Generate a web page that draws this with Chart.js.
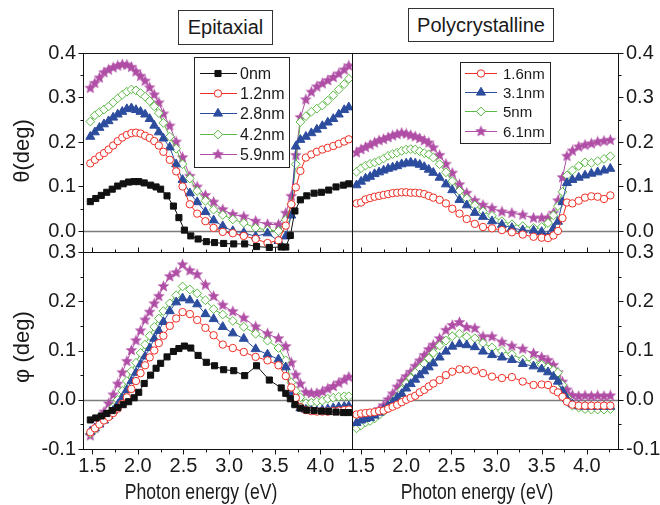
<!DOCTYPE html>
<html>
<head>
<meta charset="utf-8">
<script src="https://cdn.jsdelivr.net/npm/chart.js@4.4.1/dist/chart.umd.min.js"></script>
<style>
  html, body { margin: 0; padding: 0; background: #fff; }
  #wrap { position: relative; width: 660px; height: 505px; overflow: hidden;
          font-family: 'Liberation Sans', Arial, sans-serif; color: #1a1a1a; }
  #wrap canvas { position: absolute; left: 0; top: 0; }
  .tbox { position: absolute; box-sizing: border-box; border: 1px solid #333; background: #fff;
          font-size: 20px; text-align: center; white-space: nowrap; }
  .lbl { position: absolute; white-space: nowrap; font-size: 22px; transform: translate(-50%, -50%) scaleX(0.8); }
  .vlbl { position: absolute; white-space: nowrap; font-size: 22px; transform: translate(-50%, -50%) rotate(-90deg); }
</style>
</head>
<body>
<div id="wrap">
  <canvas id="cTL" width="660" height="505"></canvas>
  <canvas id="cTR" width="660" height="505"></canvas>
  <canvas id="cBL" width="660" height="505"></canvas>
  <canvas id="cBR" width="660" height="505"></canvas>
  <div class="tbox" style="left:178px;top:10px;width:95px;height:35px;line-height:33px;">Epitaxial</div>
  <div class="tbox" style="left:408px;top:8px;width:146px;height:34px;line-height:32px;">Polycrystalline</div>
  <div class="vlbl" style="left:22px;top:151px;">θ(deg)</div>
  <div class="vlbl" style="left:22px;top:347px;">φ (deg)</div>
  <div class="lbl" style="left:201px;top:492px;">Photon energy (eV)</div>
  <div class="lbl" style="left:477px;top:492px;">Photon energy (eV)</div>
</div>
<script>
// ---------- axis ticks ----------
const X_MAJOR = [1.5, 2.0, 2.5, 3.0, 3.5, 4.0];
const X_MINOR = [1.75, 2.25, 2.75, 3.25, 3.75, 4.25];
const THETA_MAJOR = [0.0, 0.1, 0.2, 0.3, 0.4];
const THETA_MINOR = [0.05, 0.15, 0.25, 0.35];
const PHI_MAJOR = [-0.1, 0.0, 0.1, 0.2, 0.3];
const PHI_MINOR = [-0.05, 0.05, 0.15, 0.25];

// ---------- epitaxial films: photon energy (eV) ----------
const EPI_E0 = [1.48,1.54,1.60,1.66,1.72,1.78,1.84,1.90,1.96,2.01,2.07,2.14,2.20,2.25,2.32,2.39,2.45,2.51,2.58,2.66,
                2.75,2.84,2.94,3.05,3.17,3.30,3.44,3.57,3.62,3.67,3.72,3.78,3.85,3.93,4.01,4.09,4.17,4.25,4.31];
const EPI_E = [1.48,1.53,1.58,1.63,1.68,1.73,1.78,1.83,1.88,1.93,1.98,2.03,2.08,2.13,2.18,2.23,2.28,
               2.35,2.42,2.49,2.57,2.65,2.74,2.83,2.93,3.04,3.16,3.29,3.42,3.54,
               3.62,3.68,3.73,3.78,3.84,3.90,3.96,4.02,4.08,4.14,4.20,4.26,4.31];

// Kerr rotation theta (deg), epitaxial
const EPI_THETA_0 = [0.066,0.073,0.080,0.087,0.094,0.101,0.106,0.110,0.111,0.111,0.108,0.103,0.099,0.094,0.079,0.056,0.030,0.002,-0.011,-0.018,
                     -0.024,-0.026,-0.028,-0.029,-0.029,-0.035,-0.037,-0.036,-0.036,-0.010,0.045,0.070,0.079,0.085,0.087,0.092,0.099,0.103,0.106];
const EPI_THETA_12 = [0.152,0.160,0.168,0.175,0.183,0.192,0.202,0.210,0.216,0.220,0.221,0.219,0.214,0.209,0.202,0.192,0.178,
                      0.160,0.134,0.100,0.060,0.039,0.022,0.007,-0.002,-0.005,-0.011,-0.018,-0.027,-0.021,
                      0.012,0.060,0.098,0.135,0.165,0.172,0.178,0.183,0.187,0.191,0.196,0.201,0.206];
const EPI_THETA_28 = [0.212,0.222,0.232,0.240,0.247,0.255,0.262,0.268,0.274,0.276,0.272,0.268,0.262,0.252,0.237,0.222,0.208,
                      0.188,0.150,0.115,0.085,0.065,0.043,0.024,0.011,0.000,-0.004,-0.012,-0.005,-0.022,
                      -0.012,0.035,0.190,0.205,0.212,0.220,0.228,0.236,0.244,0.252,0.262,0.272,0.278];
const EPI_THETA_42 = [0.246,0.260,0.267,0.273,0.280,0.289,0.298,0.306,0.313,0.318,0.316,0.310,0.302,0.292,0.280,0.265,0.243,
                      0.212,0.185,0.150,0.118,0.090,0.068,0.048,0.036,0.026,0.018,0.007,0.002,0.000,
                      0.025,0.060,0.150,0.245,0.258,0.268,0.275,0.282,0.293,0.305,0.318,0.330,0.342];
const EPI_THETA_59 = [0.321,0.332,0.344,0.356,0.362,0.367,0.371,0.374,0.373,0.368,0.358,0.348,0.337,0.322,0.306,0.288,0.263,
                      0.236,0.200,0.165,0.123,0.099,0.080,0.065,0.048,0.037,0.032,0.022,0.015,0.014,
                      0.040,0.078,0.170,0.255,0.295,0.312,0.324,0.331,0.338,0.345,0.353,0.362,0.371];

// Kerr ellipticity phi (deg), epitaxial
const EPI_PHI_0 = [-0.041,-0.037,-0.033,-0.028,-0.022,-0.016,-0.010,-0.004,0.004,0.015,0.033,0.050,0.064,0.074,0.087,0.098,0.104,0.109,0.105,0.090,
                   0.076,0.069,0.061,0.059,0.049,0.069,0.040,0.024,0.013,0.002,-0.010,-0.017,-0.021,-0.022,-0.023,-0.024,-0.025,-0.026,-0.026];
const EPI_PHI_12 = [-0.066,-0.058,-0.050,-0.042,-0.035,-0.027,-0.018,-0.008,0.005,0.022,0.038,0.054,0.070,0.086,0.100,0.115,0.130,
                    0.150,0.165,0.178,0.174,0.162,0.146,0.131,0.112,0.105,0.097,0.087,0.080,0.070,
                    0.048,0.025,0.004,-0.015,-0.021,-0.023,-0.024,-0.024,-0.024,-0.023,-0.022,-0.021,-0.020];
const EPI_PHI_28 = [-0.065,-0.058,-0.050,-0.042,-0.033,-0.022,-0.010,0.004,0.020,0.038,0.055,0.072,0.088,0.105,0.124,0.140,0.158,
                    0.180,0.198,0.206,0.202,0.194,0.174,0.164,0.148,0.135,0.124,0.103,0.092,0.082,
                    0.066,0.010,-0.008,-0.017,-0.020,-0.022,-0.023,-0.021,-0.019,-0.017,-0.015,-0.014,-0.013];
const EPI_PHI_42 = [-0.068,-0.060,-0.050,-0.040,-0.028,-0.015,0.000,0.018,0.038,0.058,0.075,0.095,0.112,0.130,0.148,0.165,0.180,
                    0.196,0.212,0.230,0.224,0.216,0.202,0.184,0.173,0.160,0.148,0.134,0.120,0.105,
                    0.080,0.035,0.018,0.005,-0.007,-0.006,-0.004,-0.002,0.002,0.004,0.006,0.007,0.007];
const EPI_PHI_59 = [-0.073,-0.058,-0.042,-0.025,-0.008,0.010,0.032,0.055,0.078,0.100,0.120,0.140,0.162,0.178,0.195,0.210,0.230,
                    0.250,0.258,0.274,0.262,0.254,0.233,0.210,0.192,0.179,0.166,0.148,0.134,0.124,
                    0.108,0.075,0.050,0.032,0.015,0.013,0.013,0.016,0.022,0.027,0.034,0.040,0.046];

// ---------- polycrystalline films: photon energy (eV) ----------
const POLY_E = [1.45,1.50,1.55,1.60,1.65,1.70,1.75,1.80,1.85,1.90,1.95,2.00,2.05,2.10,2.15,2.20,2.25,2.30,
                2.37,2.44,2.51,2.59,2.67,2.76,2.85,2.95,3.06,3.17,3.29,3.41,3.50,3.57,
                3.63,3.68,3.73,3.78,3.84,3.91,3.98,4.05,4.12,4.19,4.26];

const POLY_THETA_16 = [0.062,0.064,0.071,0.074,0.077,0.079,0.081,0.083,0.085,0.086,0.087,0.087,0.086,0.086,0.085,0.083,0.079,0.075,
                       0.070,0.062,0.050,0.039,0.027,0.016,0.009,0.006,0.002,-0.003,-0.008,-0.013,-0.015,-0.016,
                       -0.010,0.000,0.029,0.064,0.062,0.068,0.075,0.078,0.077,0.072,0.080];
const POLY_THETA_31 = [0.103,0.111,0.118,0.122,0.128,0.132,0.136,0.140,0.143,0.146,0.150,0.152,0.154,0.152,0.149,0.144,0.138,0.131,
                       0.120,0.105,0.092,0.070,0.058,0.041,0.032,0.022,0.014,0.007,0.002,0.001,-0.002,-0.012,
                       0.006,0.021,0.065,0.108,0.115,0.120,0.125,0.129,0.132,0.136,0.140];
const POLY_THETA_50 = [0.133,0.141,0.147,0.151,0.154,0.158,0.163,0.169,0.173,0.176,0.180,0.183,0.184,0.183,0.179,0.175,0.172,0.165,
                       0.150,0.132,0.112,0.090,0.073,0.058,0.044,0.034,0.022,0.015,0.011,0.007,0.009,0.018,
                       0.035,0.056,0.088,0.125,0.136,0.146,0.154,0.153,0.157,0.162,0.168];
const POLY_THETA_61 = [0.176,0.183,0.188,0.193,0.198,0.203,0.206,0.210,0.214,0.217,0.220,0.218,0.215,0.212,0.208,0.203,0.198,0.187,
                       0.170,0.150,0.130,0.104,0.085,0.068,0.058,0.051,0.043,0.040,0.036,0.029,0.029,0.029,
                       0.040,0.068,0.120,0.168,0.180,0.189,0.193,0.196,0.200,0.202,0.204];

const POLY_PHI_16 = [-0.030,-0.028,-0.027,-0.026,-0.025,-0.023,-0.022,-0.018,-0.014,-0.010,-0.005,0.000,0.004,0.008,0.015,0.020,0.027,0.033,
                     0.040,0.050,0.057,0.062,0.061,0.059,0.054,0.047,0.044,0.046,0.037,0.030,0.031,0.030,
                     0.020,0.015,0.006,-0.004,-0.010,-0.012,-0.012,-0.012,-0.012,-0.012,-0.012];
const POLY_PHI_31 = [-0.047,-0.042,-0.039,-0.037,-0.032,-0.026,-0.020,-0.013,-0.005,0.004,0.012,0.023,0.032,0.041,0.050,0.058,0.066,0.074,
                     0.086,0.098,0.108,0.113,0.111,0.107,0.098,0.091,0.086,0.081,0.073,0.068,0.062,0.056,
                     0.047,0.037,0.018,0.002,-0.009,-0.013,-0.014,-0.014,-0.014,-0.014,-0.014];
const POLY_PHI_50 = [-0.058,-0.052,-0.046,-0.043,-0.038,-0.031,-0.024,-0.015,-0.004,0.006,0.020,0.033,0.044,0.055,0.064,0.073,0.084,0.095,
                     0.110,0.120,0.129,0.134,0.128,0.125,0.115,0.106,0.099,0.092,0.082,0.078,0.071,0.066,
                     0.060,0.055,0.030,0.005,-0.012,-0.016,-0.019,-0.020,-0.020,-0.020,-0.019];
const POLY_PHI_61 = [-0.050,-0.045,-0.040,-0.034,-0.027,-0.020,-0.012,0.000,0.012,0.026,0.037,0.047,0.056,0.068,0.079,0.090,0.102,0.111,
                     0.124,0.141,0.151,0.157,0.147,0.145,0.128,0.128,0.117,0.109,0.103,0.094,0.086,0.080,
                     0.070,0.055,0.036,0.020,0.009,0.007,0.008,0.007,0.008,0.007,0.008];

// ---------- layout ----------
const W = 660, H = 505;
const X_RANGE = [1.40, 4.345];
const THETA_RANGE = [-0.0472, 0.40];
const PHI_RANGE = [-0.10, 0.30];
const FONT = "'Liberation Sans', Arial, sans-serif";
const INK = '#1a1a1a';

// marker styles
function starImage(size, color) {
  const c = document.createElement('canvas');
  c.width = size; c.height = size;
  const g = c.getContext('2d');
  const cx = size / 2, cy = size / 2, R = size / 2 - 0.3, r = R * 0.45;
  g.beginPath();
  for (let k = 0; k < 10; k++) {
    const a = -Math.PI / 2 + k * Math.PI / 5;
    const rr = (k % 2) ? r : R;
    g.lineTo(cx + rr * Math.cos(a), cy + rr * Math.sin(a));
  }
  g.closePath();
  g.fillStyle = color;
  g.fill();
  return c;
}
const STAR = starImage(13, '#b04ea6');
const STYLES = [
  { color: '#111111', fill: '#111111', shape: 'rect',     r: 4.3 },
  { color: '#ee2e24', fill: '#ffffff', shape: 'circle',   r: 3.7 },
  { color: '#2c4c9e', fill: '#2c4c9e', shape: 'triangle', r: 5.2 },
  { color: '#5cb946', fill: '#ffffff', shape: 'rectRot',  r: 4.4 },
  { color: '#b04ea6', fill: '#b04ea6', shape: STAR,       r: 6   }
];

function series(label, xs, ys, st) {
  return {
    label,
    data: xs.map((x, i) => ({ x, y: ys[i] })),
    showLine: true,
    borderColor: st.color,
    borderWidth: 1,
    backgroundColor: st.fill,
    pointStyle: st.shape,
    pointRadius: st.r,
    pointBackgroundColor: st.fill,
    pointBorderColor: st.color,
    pointBorderWidth: 1,
    tension: 0
  };
}

function drawLegend(chart, L) {
  const ctx = chart.ctx;
  ctx.save();
  ctx.fillStyle = '#fff';
  ctx.fillRect(L.x, L.y, L.w, L.h);
  ctx.strokeStyle = '#222';
  ctx.lineWidth = 1;
  ctx.strokeRect(L.x + 0.5, L.y + 0.5, L.w, L.h);
  chart.data.datasets.forEach((ds, i) => {
    const yy = Math.round(L.y0 + i * L.dy) + 0.5;
    ctx.strokeStyle = ds.borderColor;
    ctx.lineWidth = 1;
    ctx.beginPath(); ctx.moveTo(L.lx1, yy); ctx.lineTo(L.lx2, yy); ctx.stroke();
    ctx.fillStyle = ds.pointBackgroundColor;
    ctx.strokeStyle = ds.pointBorderColor;
    ctx.lineWidth = ds.pointBorderWidth;
    Chart.helpers.drawPoint(ctx, { pointStyle: ds.pointStyle, radius: ds.pointRadius,
                                   borderWidth: ds.pointBorderWidth, rotation: 0 }, L.mx, yy);
    ctx.fillStyle = INK;
    ctx.font = L.size + 'px ' + FONT;
    ctx.textAlign = 'left';
    ctx.textBaseline = 'middle';
    ctx.fillText(ds.label, L.tx, yy + 1);
  });
  ctx.restore();
}

// frame, tick marks, zero line and legend of one panel
function decoPlugin(cfg) {
  return {
    id: 'panelDeco',
    beforeDatasetsDraw(chart) {
      const { ctx, chartArea: a } = chart;
      const py = Math.round(chart.scales.y.getPixelForValue(0)) + 0.5;
      ctx.save();
      ctx.strokeStyle = '#7d7d7d';
      ctx.lineWidth = 1.5;
      ctx.beginPath(); ctx.moveTo(a.left, py); ctx.lineTo(a.right, py); ctx.stroke();
      ctx.restore();
    },
    afterDatasetsDraw(chart) {
      const { ctx, chartArea: a } = chart;
      const xs = chart.scales.x, ys = chart.scales.y;
      ctx.save();
      ctx.strokeStyle = '#111';
      ctx.lineWidth = 1;
      ctx.strokeRect(a.left + 0.5, a.top + 0.5, a.right - a.left, a.bottom - a.top);
      ctx.beginPath();
      for (const t of cfg.ticks) {
        const groups = [[t.major, 5], [t.minor, 3]];
        for (const [vals, len] of groups) {
          for (const v of vals) {
            if (t.axis === 'x') {
              const px = Math.round(xs.getPixelForValue(v)) + 0.5;
              const ey = (t.edge === 'bottom' ? a.bottom : a.top) + 0.5;
              ctx.moveTo(px, ey); ctx.lineTo(px, ey + t.dir * len);
            } else {
              const py = Math.round(ys.getPixelForValue(v)) + 0.5;
              const ex = (t.edge === 'left' ? a.left : a.right) + 0.5;
              ctx.moveTo(ex, py); ctx.lineTo(ex + t.dir * len, py);
            }
          }
        }
      }
      ctx.stroke();
      ctx.restore();
      if (cfg.legend) drawLegend(chart, cfg.legend);
    }
  };
}

// box: plot area in page pixels; the axis boxes fill the margins around it
function makePanel(id, box, datasets, yRange, yTicks, yPos, showX, cfg) {
  const yWidth = yPos === 'left' ? box.left : W - box.right;
  const xHeight = showX ? H - box.bottom : 0;
  return new Chart(document.getElementById(id), {
    type: 'scatter',
    data: { datasets },
    options: {
      responsive: false,
      animation: false,
      events: [],
      layout: { autoPadding: false,
                padding: { left: yPos === 'left' ? 0 : box.left,
                           right: yPos === 'right' ? 0 : W - box.right,
                           top: box.top,
                           bottom: showX ? 0 : H - box.bottom } },
      plugins: { legend: { display: false }, tooltip: { enabled: false } },
      scales: {
        x: {
          type: 'linear', position: 'bottom', min: X_RANGE[0], max: X_RANGE[1],
          afterFit(s) { s.height = xHeight; },
          afterBuildTicks(s) { s.ticks = X_MAJOR.map(v => ({ value: v })); },
          grid: { display: false, drawTicks: false },
          border: { display: false },
          ticks: { display: showX, autoSkip: false, maxRotation: 0, minRotation: 0, padding: 5, color: INK,
                   font: { family: FONT, size: 20 }, callback: v => v.toFixed(1) }
        },
        y: {
          type: 'linear', position: yPos, min: yRange[0], max: yRange[1],
          afterFit(s) { s.width = yWidth; },
          afterBuildTicks(s) { s.ticks = yTicks.map(v => ({ value: v })); },
          grid: { display: false, drawTicks: false },
          border: { display: false },
          ticks: { autoSkip: false, padding: yPos === 'left' ? 7 : 8, color: INK,
                   font: { family: FONT, size: 20 }, callback: v => v.toFixed(1) }
        }
      }
    },
    plugins: [decoPlugin(cfg)]
  });
}

const EPI_LABELS = ['0nm', '1.2nm', '2.8nm', '4.2nm', '5.9nm'];
const POLY_LABELS = ['1.6nm', '3.1nm', '5nm', '6.1nm'];

const epiTheta = [
  series(EPI_LABELS[0], EPI_E0, EPI_THETA_0, STYLES[0]),
  series(EPI_LABELS[1], EPI_E, EPI_THETA_12, STYLES[1]),
  series(EPI_LABELS[2], EPI_E, EPI_THETA_28, STYLES[2]),
  series(EPI_LABELS[3], EPI_E, EPI_THETA_42, STYLES[3]),
  series(EPI_LABELS[4], EPI_E, EPI_THETA_59, STYLES[4])
];
const epiPhi = [
  series(EPI_LABELS[0], EPI_E0, EPI_PHI_0, STYLES[0]),
  series(EPI_LABELS[1], EPI_E, EPI_PHI_12, STYLES[1]),
  series(EPI_LABELS[2], EPI_E, EPI_PHI_28, STYLES[2]),
  series(EPI_LABELS[3], EPI_E, EPI_PHI_42, STYLES[3]),
  series(EPI_LABELS[4], EPI_E, EPI_PHI_59, STYLES[4])
];
const polyTheta = [
  series(POLY_LABELS[0], POLY_E, POLY_THETA_16, STYLES[1]),
  series(POLY_LABELS[1], POLY_E, POLY_THETA_31, STYLES[2]),
  series(POLY_LABELS[2], POLY_E, POLY_THETA_50, STYLES[3]),
  series(POLY_LABELS[3], POLY_E, POLY_THETA_61, STYLES[4])
];
const polyPhi = [
  series(POLY_LABELS[0], POLY_E, POLY_PHI_16, STYLES[1]),
  series(POLY_LABELS[1], POLY_E, POLY_PHI_31, STYLES[2]),
  series(POLY_LABELS[2], POLY_E, POLY_PHI_50, STYLES[3]),
  series(POLY_LABELS[3], POLY_E, POLY_PHI_61, STYLES[4])
];

const xTicksIn  = { axis: 'x', edge: 'bottom', dir: -1, major: X_MAJOR, minor: X_MINOR };
const xTicksOut = { axis: 'x', edge: 'bottom', dir:  1, major: X_MAJOR, minor: X_MINOR };

makePanel('cTL', { left: 83, top: 53, right: 352, bottom: 252 }, epiTheta, THETA_RANGE, THETA_MAJOR, 'left', false, {
  ticks: [xTicksIn, { axis: 'y', edge: 'left', dir: -1, major: THETA_MAJOR, minor: THETA_MINOR }],
  legend: { x: 194, y: 57, w: 95, h: 110, lx1: 200, lx2: 237, mx: 218, tx: 240, y0: 73, dy: 20.2, size: 16 }
});
makePanel('cTR', { left: 352, top: 53, right: 618, bottom: 252 }, polyTheta, THETA_RANGE, THETA_MAJOR, 'right', false, {
  ticks: [xTicksIn, { axis: 'y', edge: 'right', dir: 1, major: THETA_MAJOR, minor: THETA_MINOR }],
  legend: { x: 460, y: 62, w: 90, h: 81, lx1: 465, lx2: 497, mx: 481, tx: 503, y0: 73, dy: 19.2, size: 15 }
});
makePanel('cBL', { left: 83, top: 252, right: 352, bottom: 449 }, epiPhi, PHI_RANGE, PHI_MAJOR, 'left', true, {
  ticks: [xTicksOut, { axis: 'y', edge: 'left', dir: -1, major: PHI_MAJOR, minor: PHI_MINOR }]
});
makePanel('cBR', { left: 352, top: 252, right: 618, bottom: 449 }, polyPhi, PHI_RANGE, PHI_MAJOR, 'right', true, {
  ticks: [xTicksOut, { axis: 'y', edge: 'right', dir: 1, major: PHI_MAJOR, minor: PHI_MINOR }]
});
</script>
</body>
</html>
